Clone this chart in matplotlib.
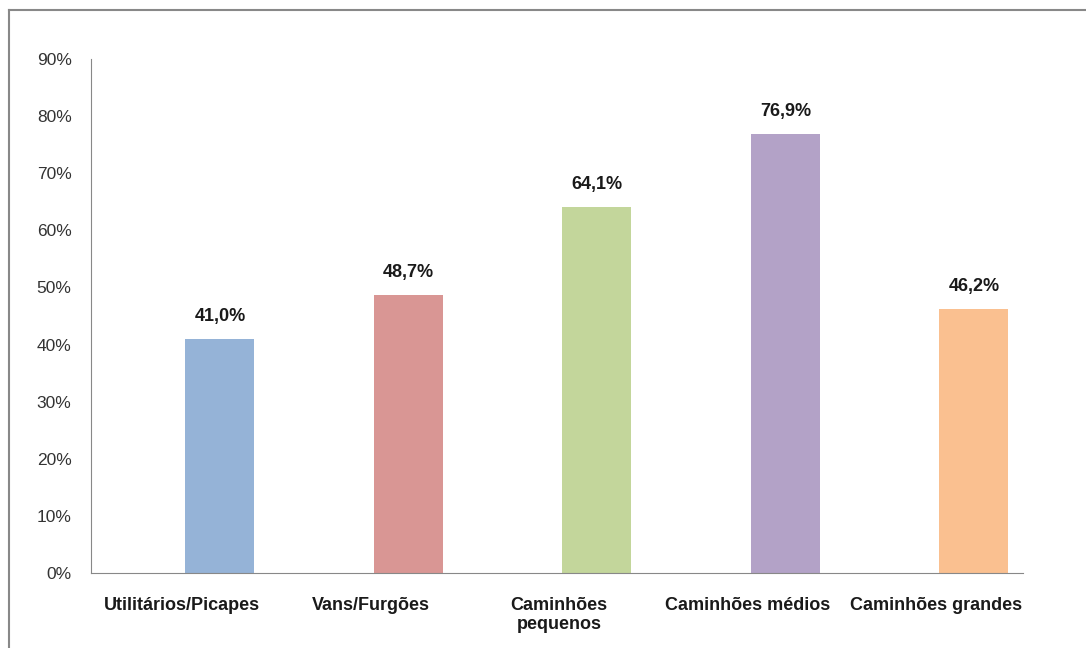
# Gráfico de barras - percentual por tipo de veículo
import matplotlib
matplotlib.use("Agg")
from matplotlib import pyplot as plt
from matplotlib.lines import Line2D

categorias = ["Utilitários/Picapes", "Vans/Furgões", "Caminhões\npequenos",
              "Caminhões médios", "Caminhões grandes"]
valores = [41.0, 48.7, 64.1, 76.9, 46.2]
rotulos = ["41,0%", "48,7%", "64,1%", "76,9%", "46,2%"]
yticks = [0, 10, 20, 30, 40, 50, 60, 70, 80, 90]
cores = ["#95B3D7", "#D99694", "#C3D69B", "#B3A2C7", "#FAC090"]

plt.rcParams['font.family'] = ['Liberation Sans', 'DejaVu Sans']

fig = plt.figure(figsize=(10.86, 6.48), dpi=100)
ax = fig.add_axes([91/1086, 1-573/648, (1023-91)/1086, (573-59)/648])

x = list(range(len(categorias)))
ax.bar(x, valores, width=0.366, color=cores)

for xi, v, r in zip(x, valores, rotulos):
    ax.annotate(r, (xi, v), xytext=(0, 10), textcoords="offset points",
                ha="center", va="bottom", fontsize=13, fontweight="bold",
                color="#1a1a1a")

ax.set_xlim(-0.684, 4.26)
ax.set_ylim(0, 90)
ax.set_yticks(yticks)
ax.set_yticklabels([f"{t}%" for t in yticks], fontsize=12.5, color="#333333")
# rótulos centrados nas faixas de categoria (barras ficam deslocadas à direita)
ax.set_xticks([xi - 0.2 for xi in x])
ax.set_xticklabels(categorias, fontsize=13, fontweight="bold", color="#1a1a1a",
                   linespacing=1.2)
ax.tick_params(axis="both", length=0)
ax.tick_params(axis="y", pad=14)
ax.tick_params(axis="x", pad=17)
for lado in ["top", "right"]:
    ax.spines[lado].set_visible(False)
ax.spines["left"].set_color("#888888")
ax.spines["bottom"].set_color("#888888")

# moldura externa (só topo e esquerda visíveis)
fig.add_artist(Line2D([9/1086, 9/1086], [0, 1-10/648], transform=fig.transFigure,
                      color="#888888", linewidth=1.5))
fig.add_artist(Line2D([9/1086, 1], [1-10/648, 1-10/648], transform=fig.transFigure,
                      color="#888888", linewidth=1.5))

fig.savefig("out.png", dpi=100)
